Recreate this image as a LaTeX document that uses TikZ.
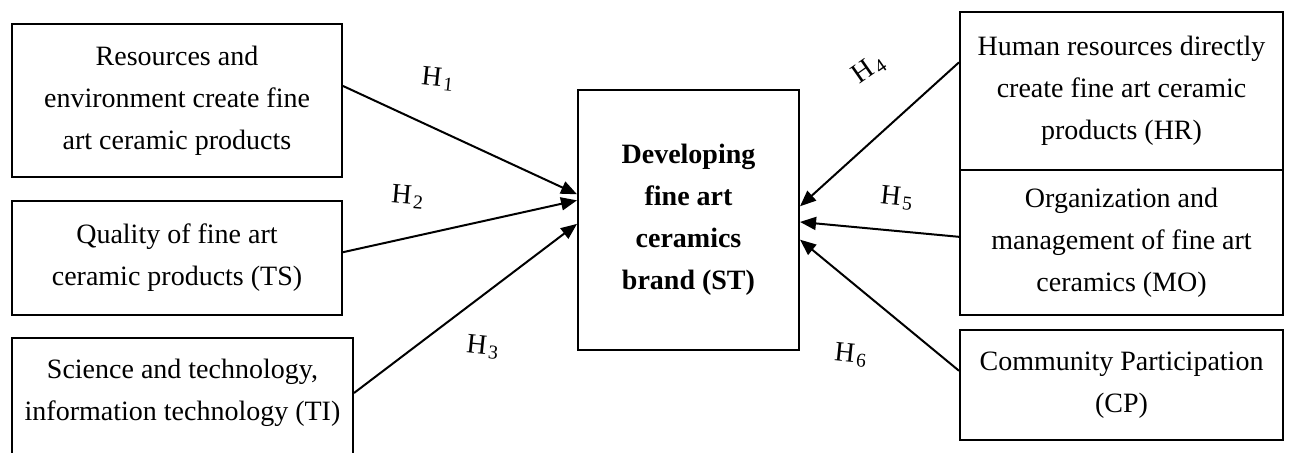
\documentclass[tikz,border=0pt]{standalone}
\usepackage{fontspec}
\setmainfont{Liberation Serif}
\usetikzlibrary{arrows.meta}

\tikzset{
  factor/.style={draw, line width=1pt, align=center, anchor=north west,
    font=\fontsize{14}{21}\selectfont},
  hyp/.style={inner sep=0pt, font=\fontsize{14}{21}\selectfont},
  link/.style={line width=1pt, -{Triangle[length=8pt, width=6.5pt]}}
}
\newcommand{\hypo}[1]{H\kern1pt\textsubscript{#1}}

\begin{document}
\begin{tikzpicture}[x=0.5pt, y=-0.5pt]
    \useasboundingbox (0,0) rectangle (1293,453);

    % factors on the left
    \node[factor, minimum width=165pt, minimum height=76.5pt] (re) at (11,23)
        {Resources and\\environment create fine\\art ceramic products};
    \node[factor, minimum width=165pt, minimum height=57pt] (ts) at (11,200)
        {Quality of fine art\\ceramic products (TS)};
    \node[factor, minimum width=170.5pt, inner ysep=10.5pt, text depth=60pt] (ti) at (11,337)
        {Science and technology,\\information technology (TI)};

    % brand
    \node[factor, minimum width=110.5pt, minimum height=130pt, font=\fontsize{14}{21}\selectfont\bfseries] (st) at (577,89)
        {Developing\\fine art\\ceramics\\brand (ST)};

    % factors on the right
    \node[factor, minimum width=161.5pt, minimum height=79pt] (hr) at (959,11)
        {Human resources directly\\create fine art ceramic\\products (HR)};
    \node[factor, minimum width=161.5pt, minimum height=72.5pt] (mo) at (959,169)
        {Organization and\\management of fine art\\ceramics (MO)};
    \node[factor, minimum width=161.5pt, minimum height=55pt] (cp) at (959,329)
        {Community Participation\\(CP)};

    \draw[link] (re.5) -- (st.167);
    \draw[link] (ts.2) -- (st.170);
    \draw[link] ([yshift=-28pt]ti.north east) -- (st.182);
    \draw[link] (hr.170) -- (st.7);
    \draw[link] (mo.178) -- (st.359);
    \draw[link] (cp.175) -- (st.350);

    \node[hyp, rotate=-6] (h1) at (438,79) {\hypo{1}};
    \node[hyp, rotate=-5] (h2) at (408,197) {\hypo{2}};
    \node[hyp, rotate=-6] (h3) at (483,347) {\hypo{3}};
    \node[hyp, rotate=35] (h4) at (869,69) {\hypo{4}};
    \node[hyp, rotate=-6] (h5) at (897,198) {\hypo{5}};
    \node[hyp, rotate=-6] (h6) at (851,355) {\hypo{6}};
\end{tikzpicture}
\end{document}
